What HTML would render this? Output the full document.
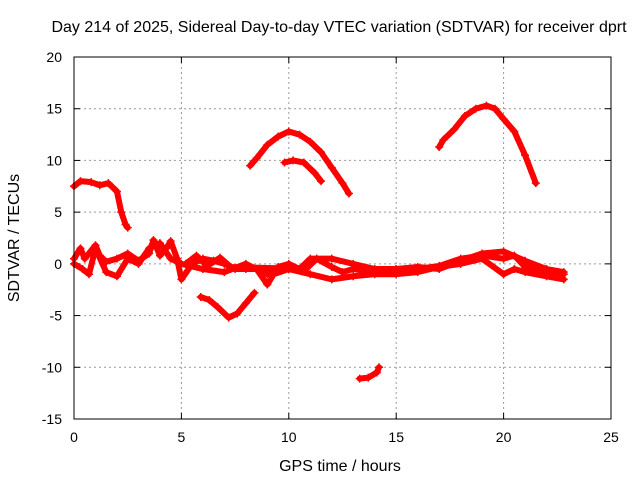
<!DOCTYPE html>
<html><head><meta charset="utf-8"><style>
body{margin:0;background:#fff}
svg{display:block;font-family:"Liberation Sans",sans-serif}
</style></head><body>
<svg id="chart" width="640" height="480">
<text x="339" y="32" font-size="16" text-anchor="middle" fill="#000">Day 214 of 2025, Sidereal Day-to-day VTEC variation (SDTVAR) for receiver dprt</text>
<text x="340" y="471" font-size="16" text-anchor="middle">GPS time / hours</text>
<text x="19" y="238" font-size="16" text-anchor="middle" transform="rotate(-90 19 238)">SDTVAR / TECUs</text>
<g id="grid"></g><g id="ticks"></g><g id="series"></g>
<rect x="74" y="57" width="537" height="362" fill="none" stroke="#000" stroke-width="1"/>
</svg>
<script>
const xTicks=[0,5,10,15,20,25];
const yTicks=[-15,-10,-5,0,5,10,15,20];
const segUpperArc=[[8.2,9.5],[8.5,10.2],[9,11.5],[9.5,12.3],[10,12.8],[10.5,12.5],[11,11.8],[11.5,10.8],[12,9.3],[12.5,7.8],[12.8,6.8]];
const segInnerArc=[[9.8,9.8],[10.2,10],[10.7,9.8],[11.2,8.8],[11.5,8.0]];
const segRightArc=[[17,11.3],[17.2,12],[17.7,13],[18.2,14.3],[18.7,15],[19.2,15.3],[19.6,15],[20,14],[20.5,12.8],[21,10.5],[21.5,7.8]];
const segLeftHigh=[[0,7.5],[0.3,8],[0.8,7.9],[1.2,7.6],[1.6,7.8],[2,7],[2.2,5],[2.4,3.8],[2.5,3.5]];
const segLow=[[13.3,-11.1],[13.7,-11],[14.1,-10.5],[14.2,-10]];
const segDip=[[5.9,-3.2],[6.3,-3.5],[6.7,-4.2],[7.2,-5.2],[7.6,-4.8],[8,-3.8],[8.4,-2.8]];
const segBand1=[[0,0.5],[0.3,1.5],[0.5,0.5],[1,1.8],[1.2,0.8],[1.5,0.2],[2,0.5],[2.5,1],[3,0.3],[3.5,1],[3.7,2.3],[4,0.8],[4.3,1.5],[4.5,2.2],[4.8,0.5],[5,-1.5],[5.5,0],[6,0.5],[6.5,0.3],[7,0],[7.5,-0.5],[8,-0.5],[8.5,-0.5],[9,-1],[9.5,-0.3],[10,0],[10.5,-0.5],[11,0.5],[12,0.5],[13,0],[14,-0.5],[15,-0.5],[16,-0.3],[17,-0.5],[18,0.3],[19,1],[20,1.2],[21,0.3],[22,-0.5],[22.8,-0.8]];
const segBand2=[[0,0],[0.4,-0.5],[0.7,-1],[1,1.5],[1.5,-0.8],[2,-1.2],[2.5,0.5],[3,0],[3.5,1.5],[4,2],[4.5,0.5],[5,0],[6,-0.5],[7,-0.8],[8,0],[8.5,-0.5],[9,-2],[9.3,-1],[10,-0.5],[11,-1],[12,-1.5],[13,-1.2],[14,-1],[15,-1],[16,-0.8],[17,-0.3],[18,0],[19,0.5],[20,-1],[20.5,-0.5],[21,-0.8],[22,-1.2],[22.8,-1.5]];
const segBand3=[[5.2,0],[5.7,0.8],[6.2,-0.2],[6.8,0.6],[7.3,-0.3],[10.8,-0.5],[11.3,0.5],[12,-0.3],[12.5,-0.8],[13,-0.5],[14,-0.8],[15,-0.6],[16,-0.5],[17,-0.2],[18,0.5],[19,0.8],[20,0.5],[20.5,0.8],[21,-0.3],[22,-0.8],[22.8,-1]];
const series=[segUpperArc,segInnerArc,segRightArc,segLeftHigh,segLow,segDip,segBand1,segBand2,segBand3];
const X0=74,X1=611,Y0=419,Y1=57;
const sx=v=>X0+(v-0)/(25-0)*(X1-X0);
const sy=v=>Y0-(v+15)/(35)*(Y0-Y1);
const NS="http://www.w3.org/2000/svg";
const mk=(t,a,p)=>{const e=document.createElementNS(NS,t);for(const k in a)e.setAttribute(k,a[k]);p.appendChild(e);return e;};
const grid=document.getElementById('grid'),ticks=document.getElementById('ticks'),ser=document.getElementById('series');
xTicks.forEach(t=>{const x=sx(t);
 if(t>0&&t<25){const g=mk('line',{x1:x,x2:x,y1:Y0,y2:Y1,stroke:'#999','stroke-dasharray':'2,3'},grid);
 
 }
 mk('line',{x1:x,x2:x,y1:Y0,y2:Y0-6,stroke:'#000'},ticks);mk('line',{x1:x,x2:x,y1:Y1,y2:Y1+6,stroke:'#000'},ticks);
 const l=mk('text',{x:x,y:Y0+23,'font-size':14,'text-anchor':'middle'},ticks);l.textContent=t;
 
 });
yTicks.forEach(t=>{const y=sy(t);
 if(t>-15&&t<20){const g=mk('line',{x1:X0,x2:X1,y1:y,y2:y,stroke:'#999','stroke-dasharray':'2,3'},grid);
 
 }
 mk('line',{x1:X0,x2:X0+6,y1:y,y2:y,stroke:'#000'},ticks);mk('line',{x1:X1,x2:X1-6,y1:y,y2:y,stroke:'#000'},ticks);
 const l=mk('text',{x:X0-12,y:y+5,'font-size':14,'text-anchor':'end'},ticks);l.textContent=t;
 
 });
series.forEach((s,i)=>{
 const g=mk('g',{},ser);
 
 
 mk('polyline',{points:s.map(p=>sx(p[0])+','+sy(p[1])).join(' '),fill:'none',stroke:'#f00','stroke-width':6,'stroke-linejoin':'round','stroke-linecap':'round'},g);
 s.forEach(p=>{const x=sx(p[0]),y=sy(p[1]);
  const m=mk('path',{d:`M${x-4},${y}H${x+4}M${x},${y-4}V${y+4}`,stroke:'#f00','stroke-width':1.5},g);
  
  });
});
</script>
</body></html>
